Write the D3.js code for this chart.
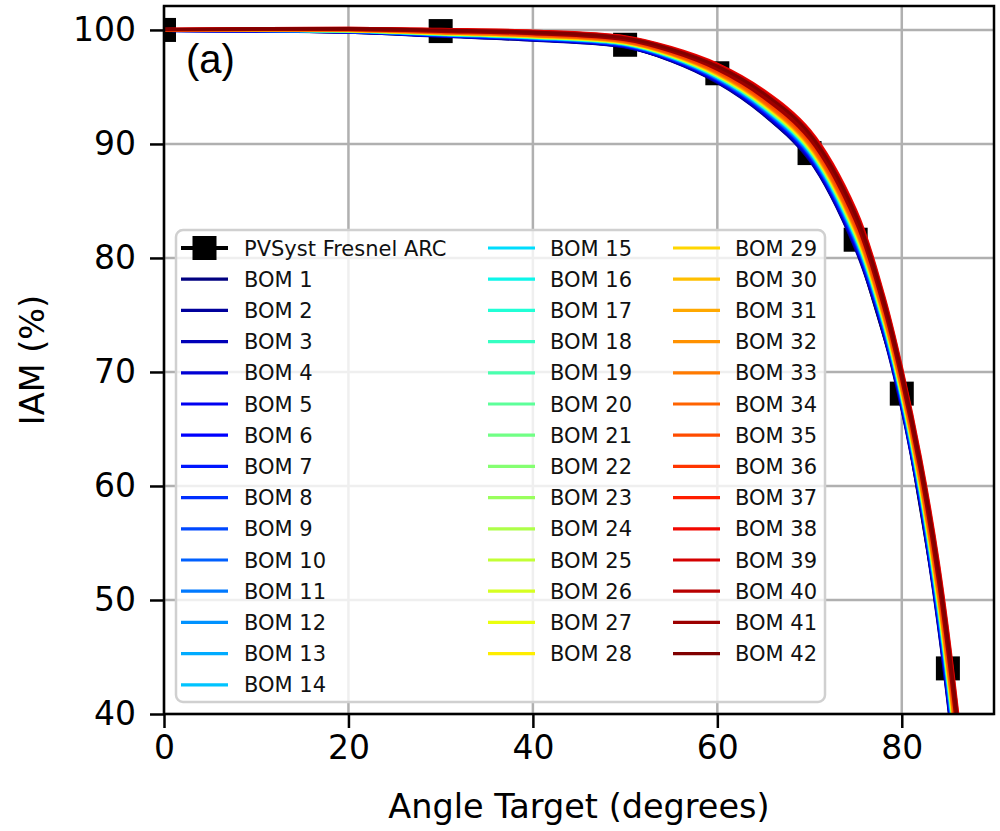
<!DOCTYPE html>
<html>
<head>
<meta charset="utf-8">
<script src="https://cdn.jsdelivr.net/npm/d3@7"></script>
<style>
  body { margin: 0; background: #fff; }
  svg { display: block; }
</style>
</head>
<body>
<svg id="chart" width="1000" height="831"></svg>
<script>
// Incidence angles (degrees) at which each BOM curve is tabulated
const angles = [0, 20, 30, 40, 50, 55, 60, 65, 70, 75, 78, 80, 82, 84, 86, 88];

// IAM (%) for each bill of materials
const bom1  = [99.95, 99.80, 99.45, 99.10, 98.50, 97.30, 95.40, 92.60, 88.60, 80.80, 73.40, 66.80, 58.40, 47.60, 34.00, 18.00];
const bom2  = [99.95, 99.81, 99.47, 99.12, 98.53, 97.33, 95.45, 92.66, 88.68, 80.90, 73.50, 66.91, 58.53, 47.77, 34.20, 18.20];
const bom3  = [99.96, 99.82, 99.49, 99.15, 98.55, 97.37, 95.50, 92.73, 88.76, 81.00, 73.60, 67.01, 58.65, 47.93, 34.39, 18.39];
const bom4  = [99.96, 99.83, 99.50, 99.17, 98.58, 97.40, 95.54, 92.79, 88.83, 81.11, 73.71, 67.12, 58.78, 48.10, 34.59, 18.59];
const bom5  = [99.96, 99.84, 99.52, 99.20, 98.61, 97.44, 95.59, 92.85, 88.91, 81.21, 73.81, 67.22, 58.90, 48.26, 34.78, 18.78];
const bom6  = [99.96, 99.85, 99.53, 99.21, 98.63, 97.46, 95.62, 92.89, 88.96, 81.28, 73.88, 67.29, 58.99, 48.37, 34.91, 18.91];
const bom7  = [99.97, 99.86, 99.55, 99.23, 98.64, 97.48, 95.66, 92.94, 89.02, 81.34, 73.94, 67.36, 59.07, 48.48, 35.04, 19.04];
const bom8  = [99.97, 99.86, 99.56, 99.24, 98.66, 97.51, 95.69, 92.98, 89.07, 81.41, 74.01, 67.43, 59.16, 48.59, 35.17, 19.17];
const bom9  = [99.97, 99.87, 99.57, 99.26, 98.68, 97.53, 95.72, 93.02, 89.12, 81.48, 74.08, 67.50, 59.24, 48.70, 35.30, 19.30];
const bom10 = [99.97, 99.88, 99.58, 99.28, 98.70, 97.55, 95.75, 93.06, 89.17, 81.55, 74.15, 67.57, 59.32, 48.81, 35.43, 19.43];
const bom11 = [99.97, 99.88, 99.59, 99.29, 98.72, 97.58, 95.78, 93.10, 89.22, 81.62, 74.22, 67.64, 59.41, 48.92, 35.56, 19.56];
const bom12 = [99.98, 99.89, 99.61, 99.31, 98.73, 97.60, 95.82, 93.15, 89.28, 81.68, 74.28, 67.71, 59.49, 49.03, 35.69, 19.69];
const bom13 = [99.98, 99.90, 99.62, 99.32, 98.75, 97.62, 95.85, 93.19, 89.33, 81.75, 74.35, 67.78, 59.58, 49.14, 35.82, 19.82];
const bom14 = [99.98, 99.91, 99.63, 99.34, 98.77, 97.65, 95.88, 93.23, 89.38, 81.82, 74.42, 67.85, 59.66, 49.25, 35.95, 19.95];
const bom15 = [99.98, 99.91, 99.64, 99.35, 98.78, 97.66, 95.90, 93.25, 89.41, 81.85, 74.45, 67.89, 59.70, 49.31, 36.02, 20.02];
const bom16 = [99.98, 99.91, 99.64, 99.36, 98.79, 97.67, 95.91, 93.27, 89.43, 81.89, 74.49, 67.92, 59.74, 49.36, 36.08, 20.08];
const bom17 = [99.98, 99.92, 99.65, 99.36, 98.80, 97.68, 95.93, 93.29, 89.46, 81.92, 74.52, 67.96, 59.79, 49.42, 36.15, 20.15];
const bom18 = [99.98, 99.92, 99.65, 99.37, 98.81, 97.69, 95.94, 93.31, 89.48, 81.96, 74.56, 67.99, 59.83, 49.47, 36.21, 20.21];
const bom19 = [99.99, 99.92, 99.66, 99.38, 98.82, 97.70, 95.96, 93.34, 89.51, 81.99, 74.59, 68.03, 59.87, 49.53, 36.28, 20.28];
const bom20 = [99.99, 99.93, 99.67, 99.39, 98.82, 97.71, 95.98, 93.36, 89.54, 82.02, 74.62, 68.06, 59.91, 49.58, 36.34, 20.34];
const bom21 = [99.99, 99.93, 99.67, 99.40, 98.83, 97.73, 95.99, 93.38, 89.56, 82.06, 74.66, 68.10, 59.95, 49.64, 36.41, 20.41];
const bom22 = [99.99, 99.93, 99.68, 99.40, 98.84, 97.74, 96.01, 93.40, 89.59, 82.09, 74.69, 68.13, 60.00, 49.69, 36.47, 20.47];
const bom23 = [99.99, 99.94, 99.68, 99.41, 98.85, 97.75, 96.02, 93.42, 89.61, 82.13, 74.73, 68.17, 60.04, 49.75, 36.54, 20.54];
const bom24 = [99.99, 99.94, 99.69, 99.42, 98.86, 97.76, 96.04, 93.44, 89.64, 82.16, 74.76, 68.20, 60.08, 49.80, 36.60, 20.60];
const bom25 = [99.99, 99.94, 99.70, 99.43, 98.87, 97.77, 96.06, 93.46, 89.67, 82.19, 74.79, 68.24, 60.12, 49.86, 36.67, 20.67];
const bom26 = [99.99, 99.95, 99.70, 99.44, 98.88, 97.78, 96.07, 93.48, 89.69, 82.23, 74.83, 68.27, 60.16, 49.91, 36.73, 20.73];
const bom27 = [99.99, 99.95, 99.71, 99.44, 98.89, 97.79, 96.09, 93.50, 89.72, 82.26, 74.86, 68.31, 60.21, 49.97, 36.80, 20.80];
const bom28 = [99.99, 99.95, 99.71, 99.45, 98.90, 97.81, 96.10, 93.52, 89.74, 82.30, 74.90, 68.34, 60.25, 50.02, 36.86, 20.86];
const bom29 = [100.00, 99.96, 99.72, 99.46, 98.91, 97.82, 96.12, 93.55, 89.77, 82.33, 74.93, 68.38, 60.29, 50.08, 36.93, 20.93];
const bom30 = [100.00, 99.96, 99.73, 99.48, 98.92, 97.84, 96.15, 93.59, 89.82, 82.40, 75.00, 68.45, 60.37, 50.19, 37.06, 21.06];
const bom31 = [100.00, 99.97, 99.74, 99.49, 98.94, 97.86, 96.18, 93.63, 89.87, 82.47, 75.07, 68.52, 60.46, 50.30, 37.19, 21.19];
const bom32 = [100.00, 99.98, 99.76, 99.51, 98.96, 97.89, 96.22, 93.67, 89.93, 82.53, 75.13, 68.59, 60.54, 50.41, 37.32, 21.32];
const bom33 = [100.00, 99.99, 99.77, 99.52, 98.98, 97.91, 96.25, 93.71, 89.98, 82.60, 75.20, 68.66, 60.63, 50.52, 37.45, 21.45];
const bom34 = [100.01, 100.00, 99.79, 99.55, 99.00, 97.94, 96.30, 93.78, 90.06, 82.70, 75.30, 68.76, 60.75, 50.68, 37.64, 21.64];
const bom35 = [100.01, 100.02, 99.82, 99.60, 99.06, 98.01, 96.39, 93.90, 90.21, 82.91, 75.51, 68.97, 61.00, 51.01, 38.03, 22.03];
const bom36 = [100.02, 100.05, 99.87, 99.66, 99.13, 98.11, 96.52, 94.07, 90.42, 83.18, 75.78, 69.25, 61.34, 51.45, 38.55, 22.55];
const bom37 = [100.04, 100.10, 99.96, 99.78, 99.27, 98.28, 96.76, 94.39, 90.81, 83.69, 76.29, 69.78, 61.97, 52.28, 39.53, 23.53];
const bom38 = [100.05, 100.15, 100.05, 99.90, 99.40, 98.45, 97.00, 94.70, 91.20, 84.20, 76.80, 70.30, 62.60, 53.10, 40.50, 24.50];
const bom39 = [100.05, 100.13, 100.02, 99.86, 99.36, 98.39, 96.92, 94.60, 91.07, 84.03, 76.63, 70.13, 62.39, 52.83, 40.18, 24.18];
const bom40 = [100.03, 100.08, 99.93, 99.74, 99.22, 98.22, 96.68, 94.28, 90.68, 83.52, 76.12, 69.60, 61.76, 52.00, 39.20, 23.20];
const bom41 = [100.02, 100.05, 99.88, 99.68, 99.15, 98.13, 96.55, 94.11, 90.47, 83.25, 75.85, 69.32, 61.42, 51.56, 38.68, 22.68];
const bom42 = [100.04, 100.11, 99.98, 99.80, 99.29, 98.31, 96.81, 94.45, 90.89, 83.79, 76.39, 69.88, 62.10, 52.44, 39.72, 23.72];

const bomSeries = [bom1, bom2, bom3, bom4, bom5, bom6, bom7, bom8, bom9, bom10,
  bom11, bom12, bom13, bom14, bom15, bom16, bom17, bom18, bom19, bom20,
  bom21, bom22, bom23, bom24, bom25, bom26, bom27, bom28, bom29, bom30,
  bom31, bom32, bom33, bom34, bom35, bom36, bom37, bom38, bom39, bom40,
  bom41, bom42];

// PVSyst Fresnel model with anti-reflective coating
const pvsystAngles = [0, 30, 50, 60, 70, 75, 80, 85];
const pvsystIAM = [100.0, 99.9, 98.7, 96.2, 89.2, 81.6, 68.1, 44.0];

const xTicks = [0, 20, 40, 60, 80];
const yTicks = [40, 50, 60, 70, 80, 90, 100];

// ---- layout ----
const plot = { left: 164, right: 994, top: 6, bottom: 714 };
const FONT = "'DejaVu Sans', sans-serif";

const x = d3.scaleLinear().domain([0, 90]).range([plot.left, plot.right]);
const y = d3.scaleLinear().domain([40, 102.1]).range([plot.bottom, plot.top]);

// jet colormap (piecewise linear channels)
const jetR = d3.scaleLinear().domain([0, 0.35, 0.66, 0.89, 1]).range([0, 0, 1, 1, 0.5]).clamp(true);
const jetG = d3.scaleLinear().domain([0, 0.125, 0.375, 0.64, 0.91, 1]).range([0, 0, 1, 1, 0, 0]).clamp(true);
const jetB = d3.scaleLinear().domain([0, 0.11, 0.34, 0.65, 1]).range([0.5, 1, 1, 0, 0]).clamp(true);
const jet = t => d3.rgb(255 * jetR(t), 255 * jetG(t), 255 * jetB(t)).toString();
const bomColor = i => jet(i / (bomSeries.length - 1));

const svg = d3.select("#chart");
svg.append("rect").attr("width", 1000).attr("height", 831).attr("fill", "#fff");

svg.append("defs").append("clipPath").attr("id", "plot-clip")
  .append("rect")
  .attr("x", plot.left).attr("y", plot.top)
  .attr("width", plot.right - plot.left).attr("height", plot.bottom - plot.top);

// ---- grid ----
const grid = svg.append("g");
grid.selectAll("line.gx").data(xTicks).join("line")
  .attr("x1", d => x(d)).attr("x2", d => x(d))
  .attr("y1", plot.top).attr("y2", plot.bottom)
  .attr("stroke", "#b0b0b0").attr("stroke-width", 2.5);
grid.selectAll("line.gy").data(yTicks).join("line")
  .attr("x1", plot.left).attr("x2", plot.right)
  .attr("y1", d => y(d)).attr("y2", d => y(d))
  .attr("stroke", "#b0b0b0").attr("stroke-width", 2.5);

// ---- data layer ----
const layer = svg.append("g").attr("clip-path", "url(#plot-clip)");

const pvLine = d3.line().x((d, i) => x(pvsystAngles[i])).y(d => y(d));
layer.append("path")
  .datum(pvsystIAM)
  .attr("d", pvLine)
  .attr("fill", "none").attr("stroke", "#000").attr("stroke-width", 4);
const msize = 24;
layer.selectAll("rect.pv").data(pvsystIAM).join("rect")
  .attr("x", (d, i) => x(pvsystAngles[i]) - msize / 2)
  .attr("y", d => y(d) - msize / 2)
  .attr("width", msize).attr("height", msize)
  .attr("fill", "#000");

const bomLine = d3.line()
  .x((d, i) => x(angles[i]))
  .y(d => y(d))
  .curve(d3.curveCatmullRom.alpha(0.5));
layer.selectAll("path.bom").data(bomSeries).join("path")
  .attr("d", bomLine)
  .attr("fill", "none")
  .attr("stroke", (d, i) => bomColor(i))
  .attr("stroke-width", 3.2)
  .attr("stroke-linejoin", "round");

// ---- legend ----
const legend = svg.append("g");
legend.append("rect")
  .attr("x", 176).attr("y", 230).attr("width", 649).attr("height", 472)
  .attr("rx", 7).attr("ry", 7)
  .attr("fill", "rgba(255,255,255,0.8)")
  .attr("stroke", "#d0d0d0").attr("stroke-width", 2.5);

const rowY0 = 248, rowStep = 31.2;
const cols = [
  { hx: 181, tx: 244 },
  { hx: 488, tx: 550 },
  { hx: 673, tx: 735 }
];
const entries = [{ label: "PVSyst Fresnel ARC", pv: true }]
  .concat(bomSeries.map((d, i) => ({ label: `BOM ${i + 1}`, color: bomColor(i) })));
const perCol = [15, 14, 14];
let k = 0;
perCol.forEach((n, c) => {
  for (let r = 0; r < n; r++, k++) {
    const e = entries[k];
    const yy = rowY0 + r * rowStep;
    const g = legend.append("g");
    if (e.pv) {
      g.append("line").attr("x1", cols[c].hx).attr("x2", cols[c].hx + 47)
        .attr("y1", yy).attr("y2", yy).attr("stroke", "#000").attr("stroke-width", 4);
      g.append("rect").attr("x", cols[c].hx + 23.5 - 12).attr("y", yy - 12)
        .attr("width", 24).attr("height", 24).attr("fill", "#000");
    } else {
      g.append("line").attr("x1", cols[c].hx).attr("x2", cols[c].hx + 47)
        .attr("y1", yy).attr("y2", yy).attr("stroke", e.color).attr("stroke-width", 3.2);
    }
    g.append("text").attr("x", cols[c].tx).attr("y", yy).attr("dy", "0.36em")
      .attr("font-family", FONT).attr("font-size", 21).attr("fill", "#111")
      .text(e.label);
  }
});

// ---- spines ----
svg.append("rect")
  .attr("x", plot.left).attr("y", plot.top)
  .attr("width", plot.right - plot.left).attr("height", plot.bottom - plot.top)
  .attr("fill", "none").attr("stroke", "#000").attr("stroke-width", 2.5);

// ---- axes ----
const xAxis = d3.axisBottom(x).tickValues(xTicks).tickSize(14).tickPadding(8).tickFormat(d3.format("d"));
const yAxis = d3.axisLeft(y).tickValues(yTicks).tickSize(14).tickPadding(14).tickFormat(d3.format("d"));

const gx = svg.append("g").attr("transform", `translate(0,${plot.bottom})`).call(xAxis);
const gy = svg.append("g").attr("transform", `translate(${plot.left},0)`).call(yAxis);
[gx, gy].forEach(g => {
  g.select(".domain").remove();
  g.selectAll(".tick line").attr("stroke", "#000").attr("stroke-width", 2.5);
  g.selectAll(".tick text").attr("font-family", FONT).attr("font-size", 33).attr("fill", "#000");
});

svg.append("text")
  .attr("x", (plot.left + plot.right) / 2).attr("y", 818)
  .attr("text-anchor", "middle")
  .attr("font-family", FONT).attr("font-size", 33.5)
  .text("Angle Target (degrees)");

svg.append("text")
  .attr("transform", `translate(44,${(plot.top + plot.bottom) / 2}) rotate(-90)`)
  .attr("text-anchor", "middle")
  .attr("font-family", FONT).attr("font-size", 33.5)
  .text("IAM (%)");

svg.append("text")
  .attr("x", 186).attr("y", 73)
  .attr("font-family", "'Liberation Sans', Arial, sans-serif").attr("font-size", 40)
  .text("(a)");
</script>
</body>
</html>
